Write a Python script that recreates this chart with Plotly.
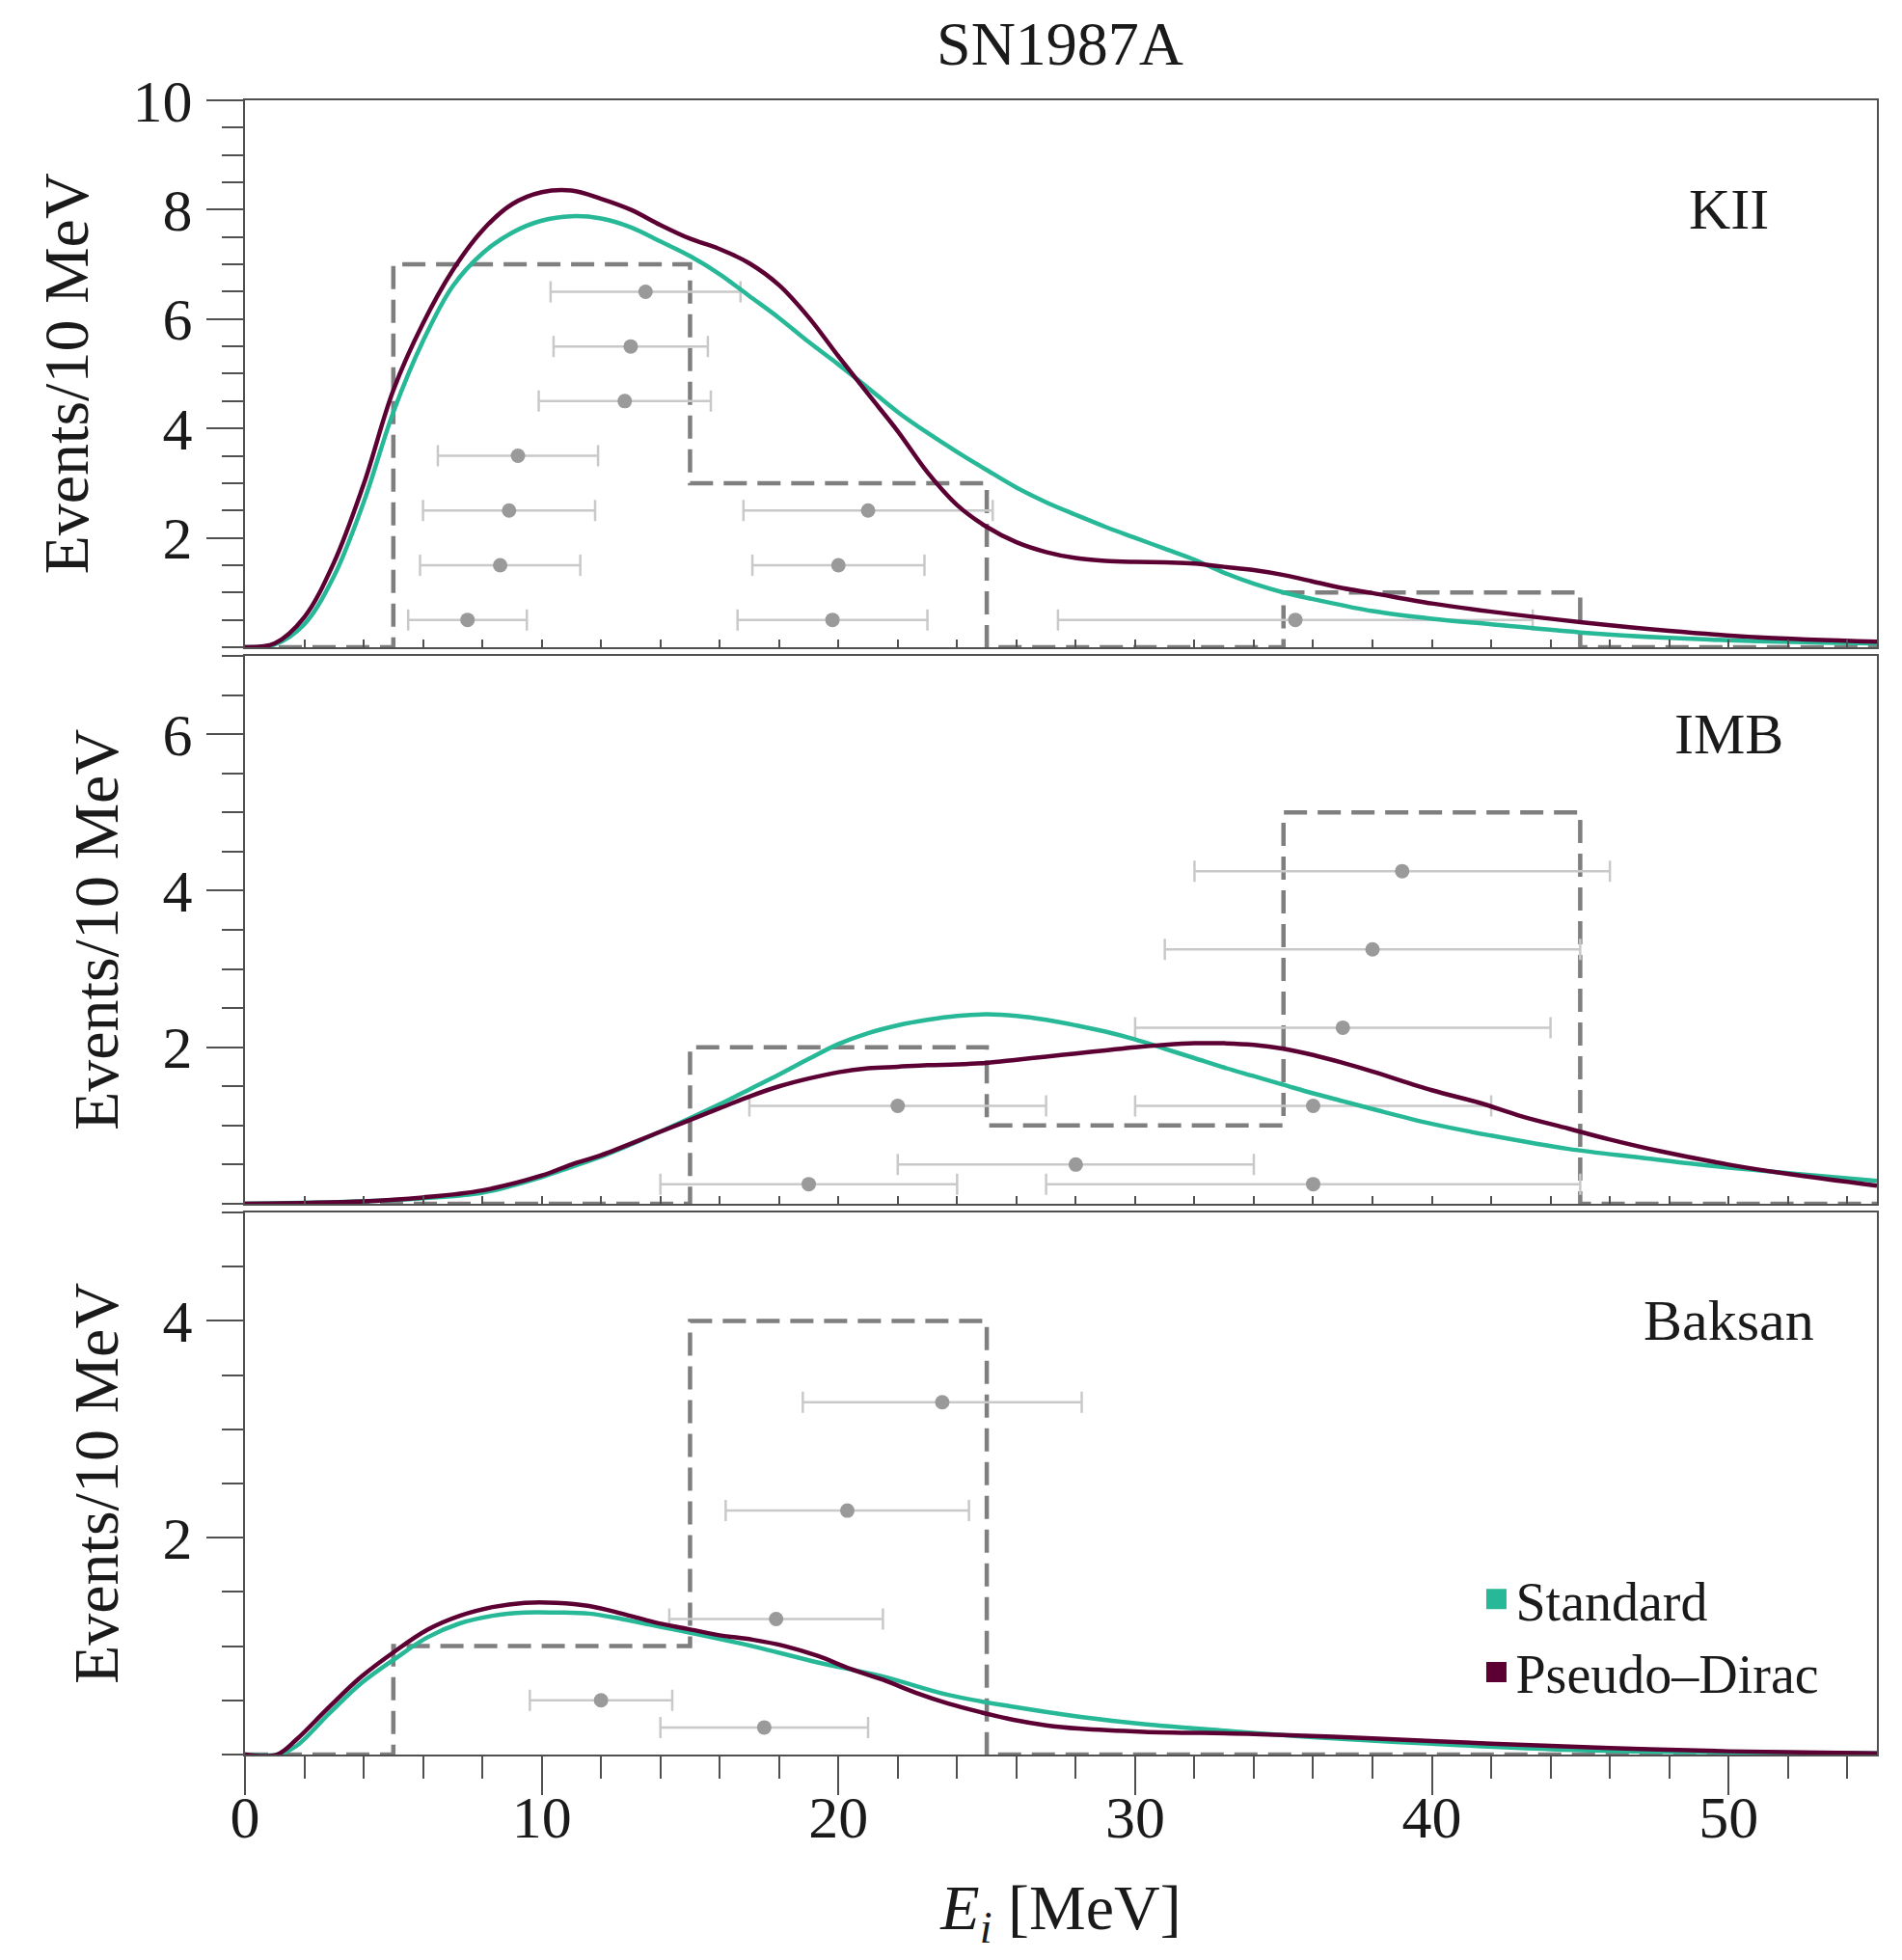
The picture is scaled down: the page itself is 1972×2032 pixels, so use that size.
import plotly.graph_objects as go

# ---------------- data ----------------
bin_edges = [0, 5, 15, 25, 35, 45, 55]
kii_counts = [0, 7, 3, 0, 1, 0]
imb_counts = [0, 0, 2, 1, 5, 0]
baksan_counts = [0, 1, 4, 0, 0, 0]

kii_E = [7.5, 19.8, 35.4, 8.6, 20.0, 8.9, 21.0, 9.2, 12.8, 13.0, 13.5]
kii_err = [2.0, 3.2, 8.0, 2.7, 2.9, 2.9, 4.2, 2.7, 2.9, 2.6, 3.2]
kii_row = [0.5, 0.5, 0.5, 1.5, 1.5, 2.5, 2.5, 3.5, 4.5, 5.5, 6.5]

imb_E = [39, 38, 37, 22, 36, 28, 19, 36]
imb_err = [7, 7, 7, 5, 6, 6, 5, 9]
imb_row = [4.25, 3.25, 2.25, 1.25, 1.25, 0.5, 0.25, 0.25]

baksan_E = [23.5, 20.3, 17.9, 12.0, 17.5]
baksan_err = [4.7, 4.1, 3.6, 2.4, 3.5]
baksan_row = [3.25, 2.25, 1.25, 0.5, 0.25]

kii_std_E = [0, 1, 2, 3, 4, 5, 6, 7, 8, 9, 10, 11, 12, 13, 14, 15, 16, 17, 18, 19, 20,
             21, 22, 23, 24, 25, 26, 27, 28, 29, 30, 31, 32, 33, 34, 35, 36, 38, 40, 42,
             45, 48, 51, 55]
kii_std_v = [0.0, 0.05, 0.42, 1.3, 2.65, 4.3, 5.6, 6.6, 7.2, 7.58, 7.8, 7.88, 7.84, 7.68,
             7.42, 7.15, 6.82, 6.42, 6.02, 5.58, 5.17, 4.74, 4.3, 3.92, 3.57, 3.24, 2.92,
             2.65, 2.42, 2.2, 2.0, 1.8, 1.6, 1.36, 1.16, 1.0, 0.88, 0.66, 0.52, 0.42,
             0.27, 0.17, 0.11, 0.07]
kii_pd_E = [0, 1, 2, 3, 4, 5, 6, 7, 8, 9, 10, 11, 12, 13, 14, 15, 16, 17, 18, 19, 20,
            21, 22, 23, 24, 25, 26, 27, 28, 29, 30, 31, 32, 33, 34, 35, 36, 37, 38, 40,
            42, 45, 48, 51, 55]
kii_pd_v = [0.0, 0.07, 0.55, 1.55, 2.98, 4.7, 5.92, 6.89, 7.62, 8.1, 8.32, 8.35, 8.2,
            8.0, 7.72, 7.47, 7.28, 7.02, 6.62, 6.03, 5.32, 4.63, 3.95, 3.2, 2.6, 2.2,
            1.92, 1.74, 1.63, 1.58, 1.56, 1.55, 1.53, 1.47, 1.41, 1.32, 1.2, 1.08, 0.99,
            0.8, 0.65, 0.46, 0.3, 0.18, 0.1]

imb_std_E = [0, 4, 6, 8, 10, 11, 12, 14, 16, 17, 18, 19, 20, 21, 22, 23, 24, 25, 26, 27,
             28, 29, 30, 31, 32, 33, 34, 35, 36, 37, 38, 40, 42, 44.6, 47, 49, 52, 55]
imb_std_v = [0.0, 0.03, 0.07, 0.14, 0.34, 0.47, 0.6, 0.92, 1.27, 1.46, 1.65, 1.85, 2.04,
             2.18, 2.28, 2.35, 2.4, 2.42, 2.4, 2.35, 2.28, 2.2, 2.1, 1.98, 1.86, 1.74, 1.63,
             1.52, 1.41, 1.31, 1.21, 1.02, 0.87, 0.7, 0.59, 0.5, 0.39, 0.29]
imb_pd_E = [0, 4, 6, 8, 10, 11, 12, 14, 16, 17, 18, 19, 20, 21, 22, 23, 24, 25, 26, 27,
            28, 29, 30, 31, 32, 33, 34, 35, 36, 37, 38, 40, 41.6, 43, 44.6, 46, 47.7, 50,
            52, 55]
imb_pd_v = [0.0, 0.03, 0.08, 0.17, 0.36, 0.5, 0.62, 0.92, 1.22, 1.37, 1.5, 1.6, 1.68,
            1.73, 1.75, 1.77, 1.78, 1.8, 1.84, 1.88, 1.92, 1.96, 2.0, 2.03, 2.05, 2.05,
            2.03, 1.98, 1.9, 1.8, 1.69, 1.45, 1.29, 1.12, 0.96, 0.82, 0.67, 0.5, 0.38, 0.23]

bak_std_E = [0, 1.1, 1.74, 2.84, 3.93, 5.04, 6.14, 7.24, 8.34, 9.43, 10.5, 11.6, 12.7,
             13.8, 14.9, 17.1, 19.3, 21.5, 23.7, 25.9, 28.1, 30.3, 33, 36, 40, 44, 48, 55]
bak_std_v = [0.0, 0.0, 0.08, 0.38, 0.66, 0.88, 1.08, 1.21, 1.28, 1.31, 1.31, 1.3, 1.25,
             1.19, 1.13, 1.0, 0.85, 0.72, 0.55, 0.44, 0.35, 0.28, 0.22, 0.16, 0.1, 0.05,
             0.025, 0.01]
bak_pd_E = [0, 1.08, 1.74, 2.84, 3.93, 5.04, 6.14, 7.24, 8.34, 9.43, 10.5, 11.6, 12.7,
            13.8, 14.9, 16, 17.1, 18.2, 19.3, 20.4, 21.5, 22.6, 23.7, 24.8, 25.9, 27,
            28.1, 30.3, 34, 38, 42, 46, 50, 55]
bak_pd_v = [0.0, 0.0, 0.14, 0.44, 0.72, 0.95, 1.15, 1.28, 1.36, 1.4, 1.4, 1.37, 1.3,
            1.22, 1.16, 1.1, 1.06, 1.0, 0.91, 0.79, 0.69, 0.57, 0.47, 0.39, 0.32, 0.27,
            0.24, 0.21, 0.19, 0.15, 0.1, 0.06, 0.03, 0.01]

panel_labels = ["KII", "IMB", "Baksan"]
x_ticks = [0, 10, 20, 30, 40, 50]

# ---------------- styles ----------------
TEAL = "#27b897"
PURPLE = "#5c0034"
HIST = "#7f7f7f"
ERR = "#c9c9c9"
DOT = "#9a9a9a"
AXC = "#505050"
TXT = "#1a1a1a"
SERIF = "Liberation Serif, DejaVu Serif, serif"

fig = go.Figure()

panels = [
    ("x3", "y3", kii_counts, kii_E, kii_err, kii_row, kii_std_E, kii_std_v, kii_pd_E, kii_pd_v),
    ("x2", "y2", imb_counts, imb_E, imb_err, imb_row, imb_std_E, imb_std_v, imb_pd_E, imb_pd_v),
    ("x", "y", baksan_counts, baksan_E, baksan_err, baksan_row, bak_std_E, bak_std_v, bak_pd_E, bak_pd_v),
]

for xa, ya, counts, pE, perr, prow, sE, sV, dE, dV in panels:
    fig.add_trace(go.Scatter(
        x=bin_edges, y=counts + [counts[-1]], xaxis=xa, yaxis=ya, mode="lines",
        line=dict(shape="hv", color=HIST, width=4.5, dash="24px,11px"),
        showlegend=False, hoverinfo="skip"))
    fig.add_trace(go.Scatter(
        x=pE, y=prow, xaxis=xa, yaxis=ya, mode="markers",
        marker=dict(color=DOT, size=15),
        error_x=dict(type="data", array=perr, color=ERR, thickness=2.5, width=11),
        showlegend=False))
    fig.add_trace(go.Scatter(
        x=sE, y=sV, xaxis=xa, yaxis=ya, mode="lines",
        line=dict(color=TEAL, width=4.5, shape="spline", smoothing=1.0),
        showlegend=False, name="Standard"))
    fig.add_trace(go.Scatter(
        x=dE, y=dV, xaxis=xa, yaxis=ya, mode="lines",
        line=dict(color=PURPLE, width=4.5, shape="spline", smoothing=1.0),
        showlegend=False, name="Pseudo\u2013Dirac"))

# legend entries (square swatches)
for name, col in [("Standard", TEAL), ("Pseudo\u2013Dirac", PURPLE)]:
    fig.add_trace(go.Scatter(
        x=[None], y=[None], xaxis="x", yaxis="y", mode="markers", name=name,
        marker=dict(symbol="square", size=16, color=col, line=dict(color=col, width=5)),
        showlegend=True))

# panel labels
for ya, lab, yv in [("y3", panel_labels[0], 8), ("y2", panel_labels[1], 6), ("y", panel_labels[2], 4)]:
    xr = "x" if ya == "y" else "x" + ya[1:]
    fig.add_annotation(x=50, y=yv, xref=xr, yref=ya, text=lab, showarrow=False,
                       font=dict(family=SERIF, size=60, color=TXT), xanchor="center", yanchor="middle")

ytitle = dict(text="Events/10 MeV", font=dict(family=SERIF, size=66, color=TXT), standoff=24)
common_y = dict(showline=True, linecolor=AXC, linewidth=2, mirror=True, ticks="outside",
                ticklen=38, tickwidth=2, tickcolor=AXC, showgrid=False, zeroline=False,
                ticklabelstandoff=2, automargin=False,
                tickfont=dict(family=SERIF, size=62, color=TXT),
                minor=dict(dtick=0.5, ticklen=22, tickwidth=2, tickcolor=AXC, ticks="outside", showgrid=False))
common_x = dict(range=[0, 55], showline=True, linecolor=AXC, linewidth=2, mirror=True,
                showgrid=False, zeroline=False, tickcolor=AXC, tickwidth=2, automargin=False)

# figure is 16px smaller than the window to account for the page body margin
fig.update_layout(
    width=1956, height=2016,
    margin=dict(l=246, r=18, t=96, b=205, autoexpand=False),
    paper_bgcolor="white", plot_bgcolor="white",
    title=dict(text="SN1987A", x=0.5578, xanchor="center", y=0.9818, yanchor="middle",
               font=dict(family=SERIF, size=64, color=TXT)),
    showlegend=True,
    legend=dict(x=0.755, y=0.119, xanchor="left", yanchor="top", bgcolor="rgba(0,0,0,0)",
                font=dict(family=SERIF, size=56, color=TXT), itemwidth=30, tracegroupgap=0),
    xaxis=dict(**common_x, domain=[0, 1], anchor="y", ticks="outside", tickvals=x_ticks,
               ticklen=40, ticklabelstandoff=-30, tickfont=dict(family=SERIF, size=62, color=TXT),
               minor=dict(dtick=2, ticklen=23, tickwidth=2, tickcolor=AXC, ticks="outside", showgrid=False),
               title=dict(text="<i>E</i><sub><i>i</i></sub> [MeV]", standoff=50,
                          font=dict(family=SERIF, size=66, color=TXT))),
    xaxis2=dict(**common_x, domain=[0, 1], anchor="y2", ticks="inside", dtick=2, ticklen=8,
                showticklabels=False),
    xaxis3=dict(**common_x, domain=[0, 1], anchor="y3", ticks="inside", dtick=2, ticklen=8,
                showticklabels=False),
    yaxis=dict(**common_y, domain=[0, 0.3277], range=[0, 5], tickvals=[2, 4], title=ytitle),
    yaxis2=dict(**common_y, domain=[0.333, 0.6641], range=[0, 7], tickvals=[2, 4, 6], title=ytitle),
    yaxis3=dict(**common_y, domain=[0.6694, 1.0], range=[0, 10], tickvals=[2, 4, 6, 8, 10], title=ytitle),
)

fig.write_html("out.html")
